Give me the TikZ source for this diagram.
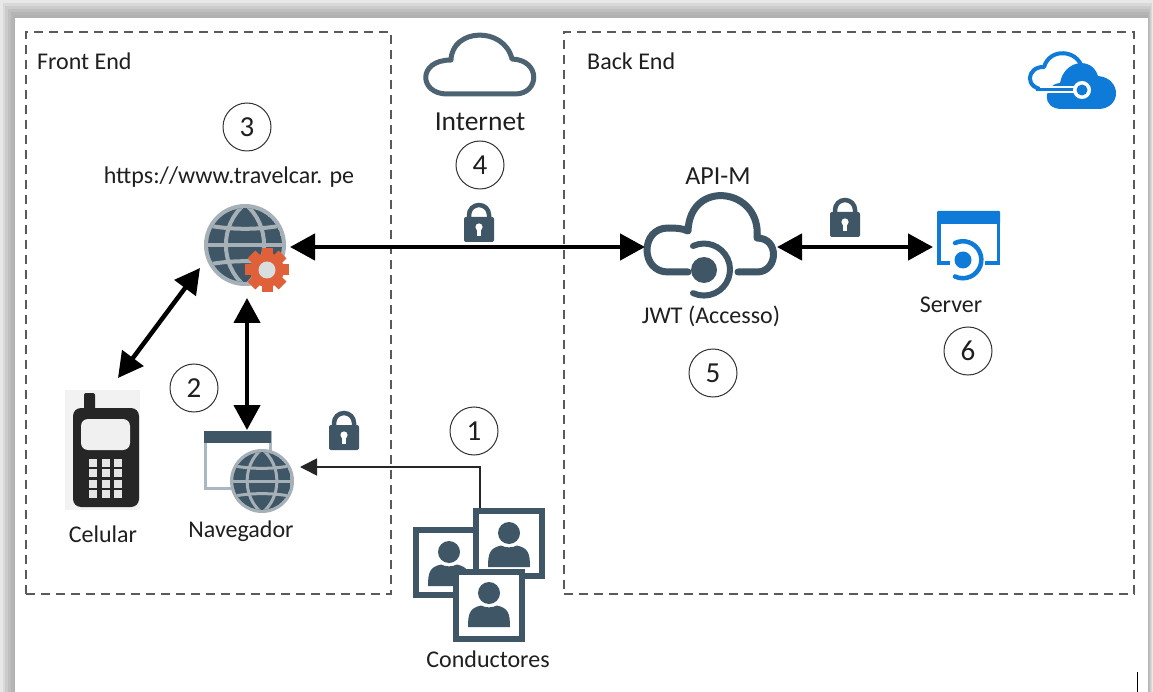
\documentclass[tikz,border=0pt]{standalone}
\usepackage{fontspec}
\setmainfont{Carlito}
\usetikzlibrary{arrows.meta}
\definecolor{slate}{HTML}{3F5666}
\definecolor{gridg}{HTML}{A6B0B7}
\definecolor{azure}{HTML}{0F7BD8}
\definecolor{gear}{HTML}{E0603A}
\definecolor{dash}{HTML}{5A5A5A}
\definecolor{winline}{HTML}{A9B8C2}
\tikzset{
  lbl/.style={font=\fontsize{24}{26}\selectfont, text=black!88, inner sep=0pt},
  num/.style={circle, draw=black!80, line width=1pt, minimum size=48pt, inner sep=0pt, font=\fontsize{29}{30}\selectfont, text=black!88},
  area/.style={draw=dash, line width=2pt, dash pattern=on 9pt off 6pt},
  both/.style={line width=4.5pt, black, {Triangle[length=25pt,width=26pt]}-{Triangle[length=25pt,width=26pt]}},
  slim/.style={line width=1.6pt, black!85, -{Triangle[length=17pt,width=17pt]}},
  hull/.style={inner sep=0pt, outer sep=0pt, rectangle},
  framepic/.style={draw=slate, line width=6pt, fill=white, line join=miter},
  lockpic/.pic={
    \draw[slate, line width=4.5pt] (-10,0) -- (-10,3) arc[start angle=180,end angle=0,radius=10] -- (10,0);
    \fill[slate, rounded corners=2pt] (-15,1) rectangle (15,-24);
    \fill[white] (0,-9) circle (3.6pt);
    \fill[white] (-1.7,-9) rectangle (1.7,-18);
  },
  globepic/.pic={
    \fill[gridg] (0,0) circle (1);
    \begin{scope}
      \clip (0,0) circle (.9);
      \fill[slate] (0,0) circle (.9);
      \draw[gridg, line width=\pgfkeysvalueof{/tikz/globew}] (-1,0) -- (1,0);
      \draw[gridg, line width=\pgfkeysvalueof{/tikz/globew}] (-1,-.5) .. controls (-.4,-.36) and (.4,-.36) .. (1,-.5);
      \draw[gridg, line width=\pgfkeysvalueof{/tikz/globew}] (-1,.5) .. controls (-.4,.36) and (.4,.36) .. (1,.5);
      \draw[gridg, line width=\pgfkeysvalueof{/tikz/globew}] (0,-1) .. controls (-.62,-.5) and (-.62,.5) .. (0,1);
      \draw[gridg, line width=\pgfkeysvalueof{/tikz/globew}] (0,-1) .. controls (.62,-.5) and (.62,.5) .. (0,1);
    \end{scope}
  },
  globew/.initial=4pt,
  personpic/.pic={
    \fill[slate] (0,0) circle (11);
    \fill[slate] (-21,-34) .. controls (-21,-20) and (-19,-15) .. (-8,-12.5) .. controls (-3,-15) and (3,-15) .. (8,-12.5) .. controls (19,-15) and (21,-20) .. (21,-34) -- cycle;
  },
}
\begin{document}
\begin{tikzpicture}[x=1pt,y=1pt,yscale=-1]
\useasboundingbox (0,0) rectangle (1153,692);
% page shadow
\fill[white] (0,0) rectangle (1153,692);
\foreach \i/\c in {0/91,3/85,6/80,9/75,12/71,15/69}{
  \fill[black!\the\numexpr 100-\c\relax] (\i*.9,\i) rectangle (1153-\i*.33,692);
}
\fill[white] (15,18) rectangle (1148,692);
% dashed areas
\node[hull,area,minimum width=365pt,minimum height=562pt] (front) at (208.5,313) {};
\node[hull,area,minimum width=570pt,minimum height=562pt] (back) at (849,313) {};
\node[lbl,anchor=west] (frontlbl) at (37,61) {Front End};
\node[lbl,anchor=west] (backlbl) at (587,61) {Back End};
% internet cloud
\draw[slate!92, line width=5pt, line join=round] (447,94) -- (515,94)
  .. controls (540,94) and (541,60) .. (512,59)
  .. controls (504,26) and (452,28) .. (451,60)
  .. controls (417,60) and (419,94) .. (447,94) -- cycle;
\node[lbl,font=\fontsize{27.5}{28}\selectfont] (internet) at (480,122) {Internet};
% azure mark
\draw[azure, line width=4pt, line join=round, fill=white] (1048,90) .. controls (1022,90) and (1027,66) .. (1044,67)
  .. controls (1050,47) and (1078,50) .. (1082,68) -- (1082,90) -- cycle;
\fill[azure] (1062,109) .. controls (1040,109) and (1044,84) .. (1060,83)
  .. controls (1064,60) and (1092,56) .. (1098,76)
  .. controls (1122,78) and (1122,109) .. (1098,109) -- cycle;
\draw[white, line width=7pt] (1040,90) -- (1078,90);
\draw[azure, line width=3pt] (1036,90) -- (1076,90);
\fill[white] (1082,90) circle (9);
\fill[azure] (1082,90) circle (5.5);
% web globe
\node[hull,minimum width=86pt,minimum height=102pt] (web) at (247,247) {};
\pic[scale=41,globew=4pt] at (245,245) {globepic};
\fill[gear] (267,270) circle (17);
\foreach \a in {0,45,...,315}{\fill[gear,rotate around={\a:(267,270)}] (261.5,248) rectangle (272.5,258);}
\fill[white!80!slate] (267,270) circle (8.5);
\node[lbl] (url) at (229,177) {https://www.travelcar. pe};
% API-M
\node[hull,minimum width=132pt,minimum height=110pt] (apim) at (711,247) {};
\draw[slate, line width=7pt, line join=round, line cap=round] (688,272) -- (668,272)
  .. controls (640,272) and (640,228) .. (668,228)
  .. controls (674,228) and (682,228) .. (688,231)
  .. controls (690,178) and (762,188) .. (757,238)
  .. controls (780,238) and (778,272) .. (757,272) -- (738,272);
\draw[slate, line width=6pt, line cap=round] (693,246) arc[start angle=-115,end angle=115,radius=26];
\fill[slate] (704,270) circle (13);
\node[lbl,font=\fontsize{26}{28}\selectfont] (apilbl) at (718,176) {API-M};
\node[lbl] (jwt) at (711,316) {JWT (Accesso)};
% server
\node[hull,minimum width=70pt,minimum height=70pt] (server) at (968,247) {};
\draw[azure, line width=3.5pt] (939,222) -- (939,263) -- (950,263);
\draw[azure, line width=3.5pt] (998.5,222) -- (998.5,263) -- (985,263);
\fill[azure, rounded corners=1pt] (937,211) rectangle (1000,224);
\draw[azure, line width=4.5pt, line cap=round] (955,243) arc[start angle=-115,end angle=115,radius=18.5];
\fill[azure] (963,260) circle (8.5);
\node[lbl] (srvlbl) at (951,305) {Server};
% phone
\fill[black!5] (65,390) rectangle (140,510);
\fill[black!85, rounded corners=2pt] (84,393) rectangle (95,415);
\fill[black!85, rounded corners=8pt] (73,408) rectangle (139,507);
\fill[black!6, rounded corners=7pt] (81,419) rectangle (130,450);
\foreach \kx in {93,106,118}{\foreach \ky in {463,473,484,494}{
  \fill[black!10] (\kx-4,\ky-3.8) rectangle (\kx+4,\ky+3.8);}}
\node[lbl] (cel) at (103,534) {Celular};
% navigator
\node[hull,minimum width=106pt,minimum height=74pt] (nav) at (247,467) {};
\fill[white] (205,431) rectangle (271,489);
\draw[winline, line width=2.5pt] (205.5,432) rectangle (270.5,488.5);
\fill[slate] (204,431) rectangle (271,443);
\pic[scale=32,globew=3pt] at (262,481) {globepic};
\node[lbl] (navlbl) at (241,531) {Navegador};
% locks
\pic at (479,218) {lockpic};
\pic at (845,213) {lockpic};
\pic at (344,426) {lockpic};
% people
\draw[framepic] (416,530) rectangle (478,595);
\pic at (449,552) {personpic};
\draw[framepic] (476,511) rectangle (542,576);
\pic at (509,533) {personpic};
\draw[framepic] (456,572) rectangle (522,639);
\pic at (489,593) {personpic};
\node[lbl] (cond) at (488,659) {Conductores};
% numbers
\node[num] (n1) at (474,431) {1};
\node[num] (n2) at (194,388) {2};
\node[num] (n3) at (247,127) {3};
\node[num] (n4) at (480,165) {4};
\node[num] (n5) at (713,373) {5};
\node[num] (n6) at (968,351) {6};
% connectors
\coordinate (phoneTip) at (118,378);
\coordinate (webTip) at (200,268);
\coordinate (condTop) at (480,508);
\coordinate (mark) at (1137,672);
\coordinate (markEnd) at (1137,692);
\draw[both] (web) -- (apim);
\draw[both] (apim) -- (server);
\draw[both] (web) -- (nav);
\draw[both] (webTip) -- (phoneTip);
\draw[slim] (condTop) |- (nav.east);
\draw[black, line width=1pt] (mark) -- (markEnd);
\end{tikzpicture}
\end{document}
